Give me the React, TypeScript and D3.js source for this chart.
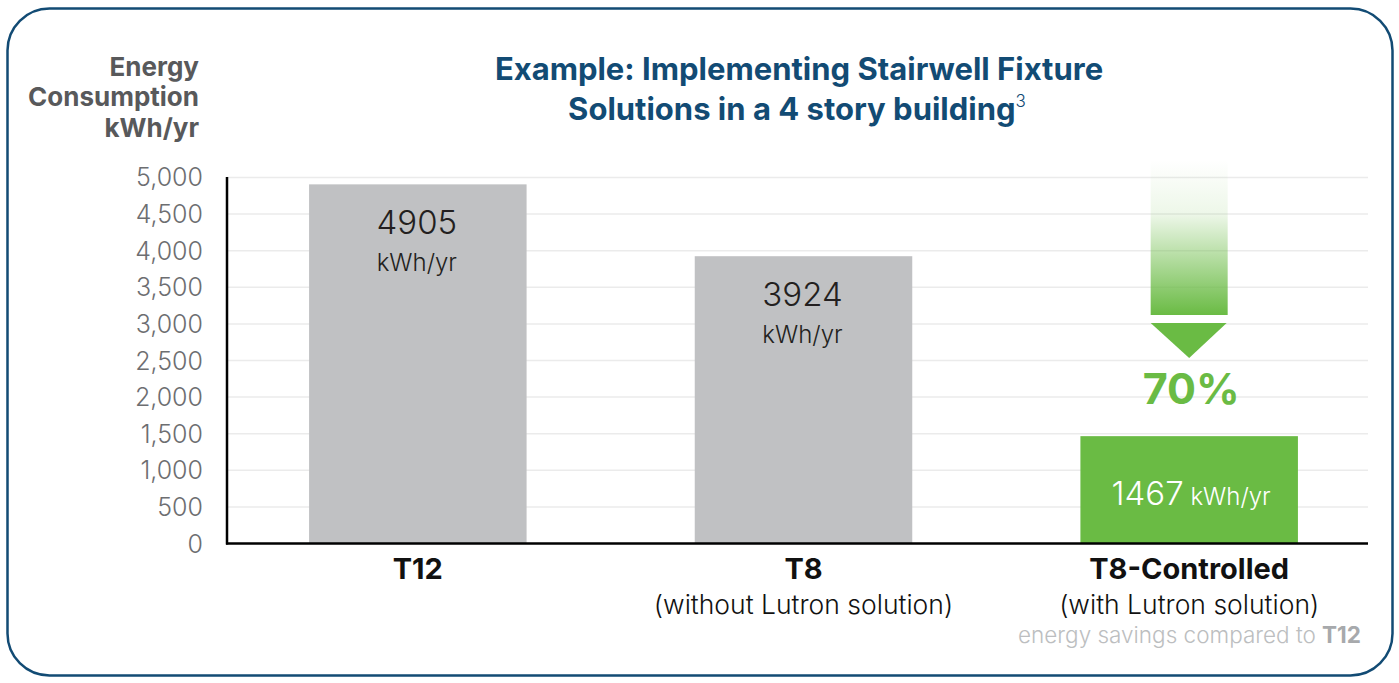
import * as d3 from "d3";

const W = 1399;
const H = 683;

const categories = ["T12", "T8", "T8-Controlled"];
const subLabels = ["", "(without Lutron solution)", "(with Lutron solution)"];
const values = [4905, 3924, 1467];
const yTicks = [0, 500, 1000, 1500, 2000, 2500, 3000, 3500, 4000, 4500, 5000];
const savingsLabel = "70%";

const BLUE = "#124b74";
const GREEN = "#6abb44";
const GREY_BAR = "#c0c1c3";
const FONT = "Inter, 'Liberation Sans', Arial, sans-serif";

export default function App() {
  const x = d3
    .scaleBand<string>()
    .domain(categories)
    .range([225, 1382])
    .paddingInner(0.436)
    .paddingOuter(0.218);
  const y = d3.scaleLinear().domain([0, 5000]).range([543.6, 177.4]);
  const fmt = d3.format(",");
  const axisLeft = 227;
  const axisRight = 1368;

  const last = categories[2];
  const cx = (x(last) ?? 0) + x.bandwidth() / 2;
  const arrowW = 77;

  return (
    <svg width={W} height={H} style={{ position: "absolute", left: 0, top: 0 }} fontFamily={FONT}>
      <defs>
        <linearGradient id="arrowGrad" x1="0" y1="0" x2="0" y2="1">
          <stop offset="0" stopColor={GREEN} stopOpacity={0} />
          <stop offset="0.35" stopColor={GREEN} stopOpacity={0.12} />
          <stop offset="1" stopColor={GREEN} stopOpacity={1} />
        </linearGradient>
      </defs>
      <rect x={0} y={0} width={W} height={H} fill="#fff" />
      <rect x={7.5} y={8.5} width={1385} height={667} rx={42} fill="none" stroke={BLUE} strokeWidth={2.5} />

      {/* y axis title */}
      <g fontWeight={700} fontSize={26} fill="#58595b" textAnchor="end">
        <text x={199} y={76}>Energy</text>
        <text x={199} y={106}>Consumption</text>
        <text x={199} y={137}>kWh/yr</text>
      </g>

      {/* title */}
      <g fontWeight={700} fontSize={31} fill={BLUE} textAnchor="middle">
        <text x={799} y={80}>Example: Implementing Stairwell Fixture</text>
        <text x={797} y={120}>
          Solutions in a 4 story building
          <tspan fontSize={17} fontWeight={300} dy={-13}>3</tspan>
        </text>
      </g>

      {/* grid */}
      {yTicks.filter((t) => t > 0).map((t) => (
        <line key={t} x1={axisLeft} x2={axisRight} y1={y(t)} y2={y(t)} stroke="#ebebeb" strokeWidth={1.5} />
      ))}

      {/* y tick labels */}
      {yTicks.map((t) => (
        <text
          key={t}
          x={203}
          y={y(t)}
          dy="0.36em"
          textAnchor="end"
          fontWeight={300}
          fontSize={25}
          fill="#6d6e71"
        >
          {fmt(t)}
        </text>
      ))}

      {/* arrow */}
      <rect x={cx - arrowW / 2} y={160} width={arrowW} height={155} fill="url(#arrowGrad)" />
      <path
        d={`M${cx - arrowW / 2},323 L${cx + arrowW / 2 - 1},323 L${cx},358 Z`}
        fill={GREEN}
      />
      <text x={cx + 2} y={404} textAnchor="middle" fontWeight={700} fontSize={43} fill={GREEN}>
        {savingsLabel}
      </text>

      {/* bars */}
      {categories.map((c, i) => {
        const bx = x(c) ?? 0;
        const top = y(values[i]);
        const mid = bx + x.bandwidth() / 2;
        const green = i === 2;
        return (
          <g key={c}>
            <rect x={bx} y={top} width={x.bandwidth()} height={y(0) - top} fill={green ? GREEN : GREY_BAR} />
            {green ? (
              <text x={mid + 2} y={y(0) - 39} textAnchor="middle" fontWeight={300} fill="#fff">
                <tspan fontSize={33}>{values[i]}</tspan>
                <tspan fontSize={24}> kWh/yr</tspan>
              </text>
            ) : (
              <g textAnchor="middle" fontWeight={300} fill="#231f20">
                <text x={mid - 1} y={top + 50} fontSize={33}>{values[i]}</text>
                <text x={mid - 1} y={top + 87} fontSize={24}>kWh/yr</text>
              </g>
            )}
            <text x={mid} y={579} textAnchor="middle" fontWeight={700} fontSize={29} fill="#111">
              {c}
            </text>
            {subLabels[i] && (
              <text x={mid} y={614} textAnchor="middle" fontWeight={300} fontSize={26.5} fill="#111">
                {subLabels[i]}
              </text>
            )}
          </g>
        );
      })}

      {/* axes */}
      <line x1={axisLeft} x2={axisLeft} y1={177} y2={y(0) + 1} stroke="#000" strokeWidth={2.5} />
      <line x1={axisLeft - 1} x2={axisRight} y1={y(0)} y2={y(0)} stroke="#000" strokeWidth={2.5} />

      <text x={1361} y={643} textAnchor="end" fontWeight={300} fontSize={22.5} fill="#bcbec0">
        energy savings compared to <tspan fontWeight={700} fill="#a7a9ac">T12</tspan>
      </text>
    </svg>
  );
}
